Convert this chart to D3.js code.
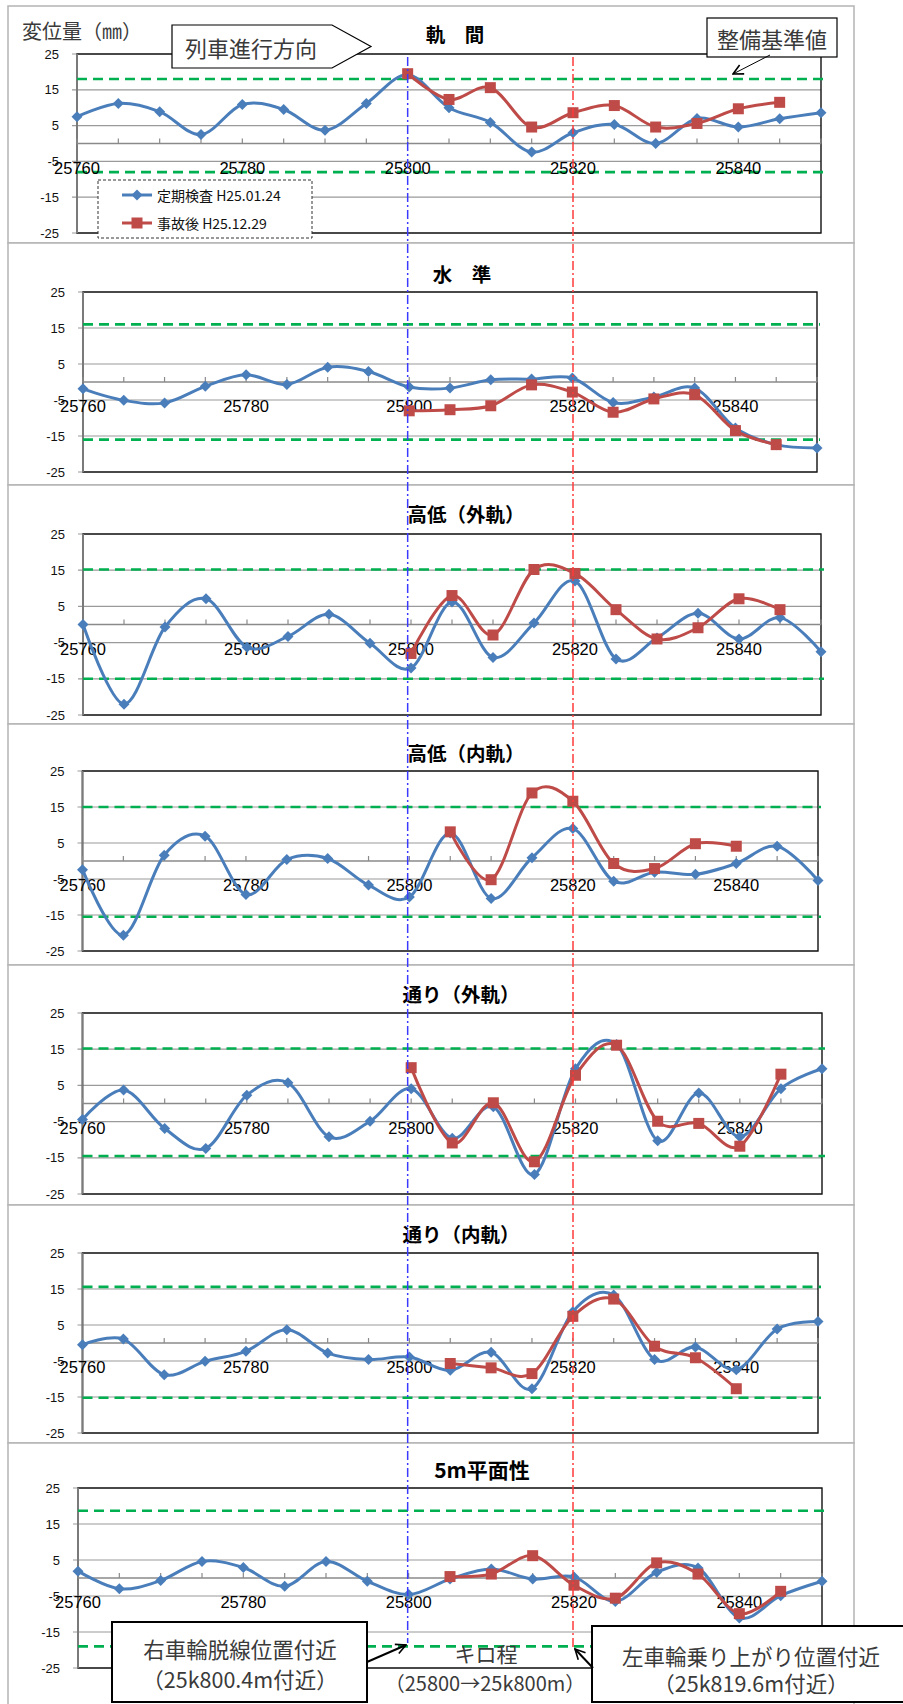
<!DOCTYPE html>
<html><head><meta charset="utf-8">
<script src="https://cdn.jsdelivr.net/npm/d3@7"></script>
<style>body{margin:0;background:#fff} svg{display:block}</style>
</head><body><svg id="c" width="903" height="1704"></svg>
<script>
// ---- data ----
const kilo = [25760,25765,25770,25775,25780,25785,25790,25795,25800,25805,25810,25815,25820,25825,25830,25835,25840,25845,25850];
const xTickLabels = [25760,25780,25800,25820,25840];
const yTicks = [25,15,5,-5,-15,-25];
const seriesNames = ["定期検査 H25.01.24","事故後 H25.12.29"];
const panelTitles = ["軌　間","水　準","高低（外軌）","高低（内軌）","通り（外軌）","通り（内軌）","5m平面性"];

const gaugeBefore = [7.5,11.2,8.9,2.5,10.9,9.5,3.7,11.2,19.2,10.0,5.9,-2.4,3.0,5.3,0,7.0,4.6,6.9,8.6];
const gaugeAfter  = [null,null,null,null,null,null,null,null,19.5,12.3,15.6,4.6,8.6,10.6,4.6,5.6,9.7,11.5,null];
const levelBefore = [-1.9,-5.1,-5.8,-1.2,2.0,-0.7,4.1,2.9,-1.4,-1.7,0.6,0.8,1.1,-5.7,-4.2,-1.7,-12.8,-17.4,-18.3];
const levelAfter  = [null,null,null,null,null,null,null,null,-8.0,-7.7,-6.6,-0.8,-2.8,-8.4,-4.7,-3.5,-13.5,-17.4,null];
const surfOuterBefore = [0,-22,-0.7,7.1,-6.3,-3.3,2.8,-5.2,-12,6.2,-9.1,0.4,12,-9.5,-3.7,3.1,-4,1.9,-7.5];
const surfOuterAfter  = [null,null,null,null,null,null,null,null,-8,8,-2.9,15.2,14.1,4.1,-4,-0.9,7.1,4.1,null];
const surfInnerBefore = [-2.4,-20.6,1.6,6.9,-9.3,0.4,0.7,-6.7,-10,7.8,-10.4,0.9,9,-5.6,-3.1,-3.7,-0.7,4.1,-5.4];
const surfInnerAfter  = [null,null,null,null,null,null,null,null,null,8.1,-5.2,18.9,16.6,-0.7,-2.1,4.8,4.1,null,null];
const alignOuterBefore = [-4.4,3.7,-6.9,-12.4,2.3,5.7,-9.2,-4.9,4.1,-9.6,-0.9,-19.6,9.6,16.3,-10.3,2.9,-9.2,4.1,9.6];
const alignOuterAfter  = [null,null,null,null,null,null,null,null,9.9,-10.9,0.2,-16.1,7.8,16.1,-4.9,-5.5,-11.8,8.1,null];
const alignInnerBefore = [-0.5,1.1,-8.8,-5.1,-2.3,3.7,-2.8,-4.6,-3.9,-7.6,-2.6,-12.7,8.7,13.3,-4.6,-1.1,-7.4,3.9,6.0];
const alignInnerAfter  = [null,null,null,null,null,null,null,null,null,-5.7,-6.9,-8.5,7.4,12.2,-0.9,-4.1,-12.7,null,null];
const twistBefore = [1.9,-3,-0.7,4.6,2.9,-2.3,4.6,-0.9,-4.6,-0.3,2.5,-0.3,0.3,-6.5,1.6,2.8,-11.1,-4.9,-0.9];
const twistAfter  = [null,null,null,null,null,null,null,null,null,0.4,1.1,6.2,-2,-5.6,4.2,1.1,-9.9,-3.7,null];

const limits = [[18,-8],[16,-16],[15.2,-15],[15,-15.5],[15.2,-14.5],[15.6,-15.2],[18.7,-19]];
const beforeSeries = [gaugeBefore,levelBefore,surfOuterBefore,surfInnerBefore,alignOuterBefore,alignInnerBefore,twistBefore];
const afterSeries  = [gaugeAfter,levelAfter,surfOuterAfter,surfInnerAfter,alignOuterAfter,alignInnerAfter,twistAfter];
const markKm = [25800, 25820];

// ---- layout ----
const layout = [
 {top:6,bottom:243,x0:77,x1:821,y0:54,y1:233,tx:455,ty:33},
 {top:243,bottom:485,x0:83,x1:817,y0:292,y1:472,tx:462,ty:273},
 {top:485,bottom:724,x0:83,x1:821,y0:534,y1:715,tx:466,ty:513},
 {top:724,bottom:965,x0:82.5,x1:818,y0:771,y1:951,tx:466,ty:752},
 {top:965,bottom:1205,x0:82.5,x1:822,y0:1013,y1:1194,tx:461,ty:993},
 {top:1205,bottom:1443,x0:82.5,x1:818,y0:1253,y1:1433,tx:461,ty:1233},
 {top:1443,bottom:1720,x0:78,x1:822,y0:1488,y1:1668,tx:482,ty:1469}
];
const BLUE="#4a7ebb", RED="#be4b48", GREEN="#00b050";
const NUM = "'Liberation Sans', Arial, sans-serif";
const JP = "'Noto Sans CJK JP', sans-serif";

const svg = d3.select("#c");
const defs = svg.append("defs");
defs.append("marker").attr("id","arr").attr("viewBox","0 0 12 12").attr("refX",11).attr("refY",6)
  .attr("markerWidth",12).attr("markerHeight",12).attr("markerUnits","userSpaceOnUse").attr("orient","auto")
  .append("path").attr("d","M1,1 L11,6 L1,11").attr("fill","none").attr("stroke","#000").attr("stroke-width",1.6);

const diamond = "M0,-5.5L5.5,0L0,5.5L-5.5,0Z";
const square = "M-5.5,-5.5H5.5V5.5H-5.5Z";
let xs0 = null;

layout.forEach((L,i)=>{
  const g = svg.append("g");
  g.append("rect").attr("x",8).attr("y",L.top).attr("width",846).attr("height",L.bottom-L.top)
    .attr("fill","#fff").attr("stroke","#b4b4b4").attr("stroke-width",1.5);
  const x = d3.scalePoint().domain(kilo).range([L.x0,L.x1]);
  const y = d3.scaleLinear().domain([-25,25]).range([L.y1,L.y0]);
  if(i===0) xs0 = x;
  g.selectAll(".grid").data(yTicks).enter().append("line")
    .attr("x1",L.x0-5).attr("x2",L.x1).attr("y1",d=>y(d)).attr("y2",d=>y(d))
    .attr("stroke","#9a9a9a").attr("stroke-width",1.2);
  g.selectAll(".yl").data(yTicks).enter().append("text")
    .attr("x",L.x0-18).attr("y",d=>y(d)).attr("text-anchor","end").attr("dominant-baseline","central")
    .attr("font-family",NUM).attr("font-size",13).attr("fill","#111").text(d=>d);
  g.append("rect").attr("x",L.x0).attr("y",L.y0).attr("width",L.x1-L.x0).attr("height",L.y1-L.y0)
    .attr("fill","none").attr("stroke","#111").attr("stroke-width",1.4);
  g.append("line").attr("x1",L.x0).attr("x2",L.x0).attr("y1",L.y0).attr("y2",L.y1)
    .attr("stroke","#7a7a7a").attr("stroke-width",2);
  g.append("line").attr("x1",L.x0).attr("x2",L.x1).attr("y1",y(0)).attr("y2",y(0))
    .attr("stroke","#8a8a8a").attr("stroke-width",1.5);
  g.selectAll(".tk").data(kilo).enter().append("line")
    .attr("x1",d=>x(d)).attr("x2",d=>x(d)).attr("y1",y(0)).attr("y2",y(0)-5)
    .attr("stroke","#8a8a8a").attr("stroke-width",1.2);
  g.selectAll(".lim").data(limits[i]).enter().append("line")
    .attr("x1",L.x0).attr("x2",L.x1+3).attr("y1",d=>y(d)).attr("y2",d=>y(d))
    .attr("stroke",GREEN).attr("stroke-width",2.6).attr("stroke-dasharray","10,6");
  g.selectAll(".xl").data(xTickLabels).enter().append("text")
    .attr("x",d=>x(d)).attr("y",y(0)+24).attr("text-anchor","middle").attr("dominant-baseline","central")
    .attr("font-family",NUM).attr("font-size",16.5).attr("fill","#000").text(d=>d);
  const line = d3.line().defined(d=>d[1]!==null).x(d=>x(d[0])).y(d=>y(d[1])).curve(d3.curveCardinal.tension(0));
  const b = kilo.map((k,j)=>[k,beforeSeries[i][j]]);
  const a = kilo.map((k,j)=>[k,afterSeries[i][j]]);
  g.append("path").attr("d",line(b)).attr("fill","none").attr("stroke",BLUE).attr("stroke-width",3);
  g.selectAll(".mb").data(b).enter().append("path").attr("d",diamond)
    .attr("transform",d=>`translate(${x(d[0])},${y(d[1])})`).attr("fill",BLUE);
  g.append("path").attr("d",line(a)).attr("fill","none").attr("stroke",RED).attr("stroke-width",3);
  g.selectAll(".ma").data(a.filter(d=>d[1]!==null)).enter().append("path").attr("d",square)
    .attr("transform",d=>`translate(${x(d[0])},${y(d[1])})`).attr("fill",RED);
  g.append("text").attr("x",L.tx).attr("y",L.ty).attr("text-anchor","middle").attr("dominant-baseline","central")
    .attr("font-family",JP).attr("font-weight","bold").attr("font-size",i===6?21:19.5).attr("fill","#000").text(panelTitles[i]);
});

svg.append("line").attr("x1",xs0(markKm[0])).attr("x2",xs0(markKm[0])).attr("y1",57).attr("y2",1643)
  .attr("stroke","#3a3aff").attr("stroke-width",1.5).attr("stroke-dasharray","9,3,2,3");
svg.append("line").attr("x1",xs0(markKm[1])).attr("x2",xs0(markKm[1])).attr("y1",57).attr("y2",1648)
  .attr("stroke","#ff3a3a").attr("stroke-width",1.5).attr("stroke-dasharray","9,3,2,3");

svg.append("text").attr("x",22).attr("y",30).attr("dominant-baseline","central")
  .attr("font-family",JP).attr("font-size",20).attr("fill","#3a3a3a").text("変位量（㎜）");

svg.append("path").attr("d","M172,25H332L371,46.5L332,68H172Z").attr("fill","#fff").attr("stroke","#000").attr("stroke-width",1.2);
svg.append("text").attr("x",251).attr("y",47).attr("text-anchor","middle").attr("dominant-baseline","central")
  .attr("font-family",JP).attr("font-size",22).attr("fill","#3a3a3a").text("列車進行方向");

svg.append("rect").attr("x",707).attr("y",18).attr("width",130).attr("height",39).attr("fill","#fff").attr("stroke","#000").attr("stroke-width",1.2);
svg.append("text").attr("x",772).attr("y",37.5).attr("text-anchor","middle").attr("dominant-baseline","central")
  .attr("font-family",JP).attr("font-size",22).attr("fill","#3a3a3a").text("整備基準値");
svg.append("line").attr("x1",770).attr("y1",55).attr("x2",733).attr("y2",74).attr("stroke","#000").attr("stroke-width",1).attr("marker-end","url(#arr)");

const lg = svg.append("g");
lg.append("rect").attr("x",98).attr("y",180).attr("width",214).attr("height",58).attr("fill","#fff")
  .attr("stroke","#333").attr("stroke-width",1).attr("stroke-dasharray","3,2");
[[BLUE,diamond],[RED,square]].forEach((s,k)=>{
  const yy = 195 + k*28;
  lg.append("line").attr("x1",122).attr("x2",152).attr("y1",yy).attr("y2",yy).attr("stroke",s[0]).attr("stroke-width",3);
  lg.append("path").attr("d",s[1]).attr("transform",`translate(137,${yy})`).attr("fill",s[0]);
  lg.append("text").attr("x",157).attr("y",yy).attr("dominant-baseline","central")
    .attr("font-family",JP).attr("font-size",14).attr("fill","#111").text(seriesNames[k]);
});

svg.append("text").attr("x",486).attr("y",1653).attr("text-anchor","middle").attr("dominant-baseline","central")
  .attr("font-family",JP).attr("font-size",21).attr("fill","#3a3a3a").text("キロ程");
svg.append("text").attr("x",485).attr("y",1682).attr("text-anchor","middle").attr("dominant-baseline","central")
  .attr("font-family",JP).attr("font-size",20).attr("fill","#3a3a3a").text("（25800→25k800m）");

svg.append("rect").attr("x",112).attr("y",1622).attr("width",255).attr("height",80).attr("fill","#fff").attr("stroke","#000").attr("stroke-width",2);
svg.append("text").attr("x",240).attr("y",1648).attr("text-anchor","middle").attr("dominant-baseline","central")
  .attr("font-family",JP).attr("font-size",21.5).attr("fill","#3a3a3a").text("右車輪脱線位置付近");
svg.append("text").attr("x",240).attr("y",1678).attr("text-anchor","middle").attr("dominant-baseline","central")
  .attr("font-family",JP).attr("font-size",21.5).attr("fill","#3a3a3a").text("（25k800.4m付近）");
svg.append("line").attr("x1",367).attr("y1",1662).attr("x2",406).attr("y2",1645).attr("stroke","#000").attr("stroke-width",2).attr("marker-end","url(#arr)");

svg.append("rect").attr("x",592).attr("y",1626).attr("width",320).attr("height",76).attr("fill","#fff").attr("stroke","#000").attr("stroke-width",2);
svg.append("text").attr("x",751).attr("y",1655).attr("text-anchor","middle").attr("dominant-baseline","central")
  .attr("font-family",JP).attr("font-size",21.5).attr("fill","#3a3a3a").text("左車輪乗り上がり位置付近");
svg.append("text").attr("x",751).attr("y",1682).attr("text-anchor","middle").attr("dominant-baseline","central")
  .attr("font-family",JP).attr("font-size",21.5).attr("fill","#3a3a3a").text("（25k819.6m付近）");
svg.append("line").attr("x1",593).attr("y1",1668).attr("x2",575).attr("y2",1649).attr("stroke","#000").attr("stroke-width",2).attr("marker-end","url(#arr)");
</script></body></html>
